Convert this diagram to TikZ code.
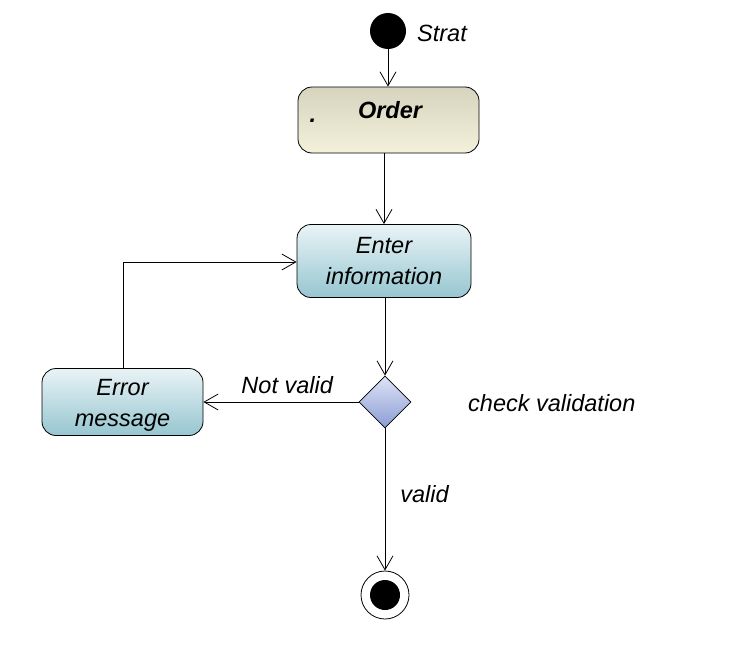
\documentclass[tikz,border=0pt]{standalone}
\usepackage{fontspec}
\setmainfont{Liberation Sans}
\usetikzlibrary{arrows.meta,shapes.geometric}
\definecolor{ordertop}{HTML}{D6D4BE}
\definecolor{orderbot}{HTML}{F3F1DA}
\definecolor{acttop}{HTML}{E9F3F6}
\definecolor{actbot}{HTML}{96C6D0}
\definecolor{dectop}{HTML}{DEE3F5}
\definecolor{decbot}{HTML}{8A9CD4}

\begin{document}
\begin{tikzpicture}[x=1pt,y=-1pt,
		txt/.style={font=\fontsize{23.5}{31}\selectfont\itshape,inner sep=0pt},
		act/.style={draw,line width=0.8pt,rounded corners=14pt,align=center,
			font=\fontsize{23.5}{31}\selectfont\itshape,top color=acttop,bottom color=actbot},
		flow/.style={draw,line width=0.8pt,-{Straight Barb[length=14pt,width=16pt,line width=0.8pt]}}]
	\useasboundingbox (0,0) rectangle (738,669);
	% start and order
	\node[circle,fill=black,minimum size=36pt,inner sep=0pt] (start) at (388,31) {};
	\node[txt,anchor=west] (strat) at (417,33) {Strat};
	\node[act,minimum width=181pt,minimum height=66pt,top color=ordertop,bottom color=orderbot] (order) at (388.5,120) {};
	\node[txt,font=\fontsize{23.5}{31}\selectfont\bfseries\itshape] (ordertxt) at (390,110) {Order};
	\node[txt,font=\fontsize{23.5}{31}\selectfont\bfseries\itshape] (dot) at (313,121) {.};
	% enter information
	\node[act,minimum width=174pt,minimum height=73pt] (enter) at (384,261) {Enter\\information};
	% decision
	\node[diamond,draw,line width=0.8pt,minimum width=52pt,minimum height=52pt,inner sep=0pt,top color=dectop,bottom color=decbot] (check) at (385,402) {};
	\node[txt,anchor=west] (checktxt) at (468,403) {check validation};
	% error message
	\node[act,minimum width=161pt,minimum height=67pt] (error) at (122.5,402) {\rule{0pt}{23pt}Error\\message};
	% end
	\node[circle,draw,line width=0.8pt,minimum size=48pt,inner sep=0pt] (stop) at (385,595) {};
	\node[circle,fill=black,minimum size=30pt,inner sep=0pt] (stopin) at (stop) {};
	\coordinate (bend) at (123,262);
	% connectors
	\draw[flow] (start) -- (start|-order.north);
	\draw[flow] (order.south-|enter) -- (enter.north);
	\draw[flow] (enter.south-|check) -- (check.north);
	\draw[flow] (check.west) -- node[txt,above=8pt,pos=0.46] (notvalid) {Not valid} (error.east);
	\draw[flow] (error.north-|bend) -- (bend) -- (bend-|enter.west);
	\draw[flow] (check.south) -- node[txt,right=15pt,pos=0.46] (valid) {valid} (stop.north);
\end{tikzpicture}
\end{document}
